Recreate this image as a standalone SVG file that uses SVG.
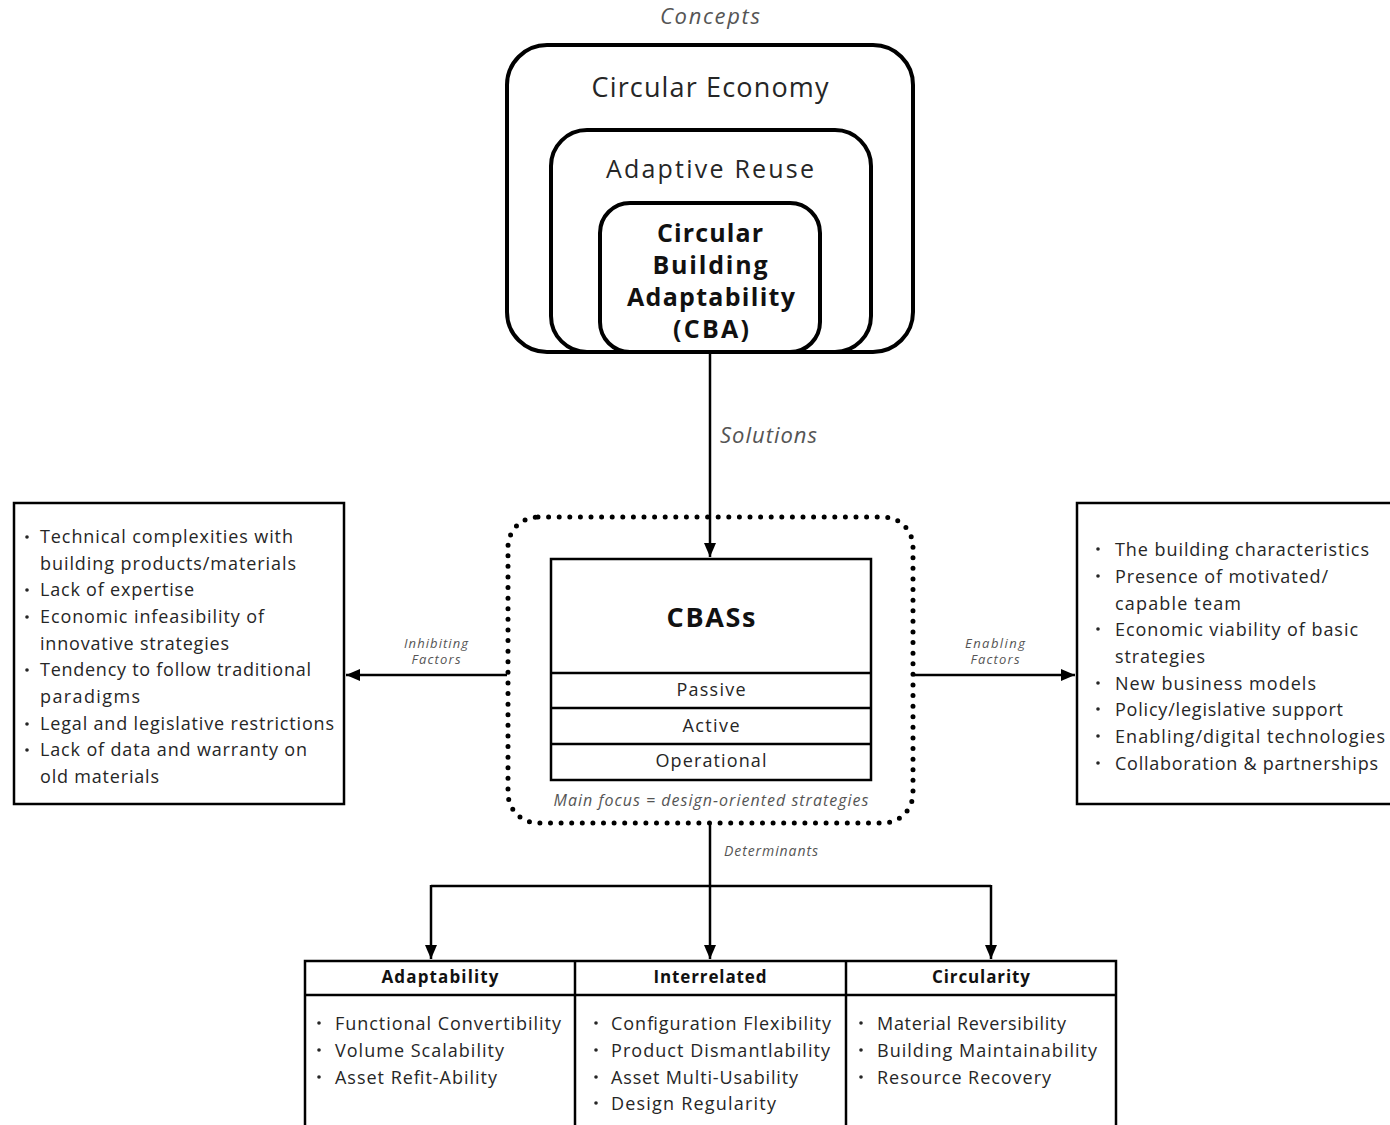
<svg xmlns="http://www.w3.org/2000/svg" width="1390" height="1125" viewBox="0 0 1390 1125">
  <style>
    text { font-family: "Open Sans", "Noto Sans", "Liberation Sans", sans-serif; fill: #262626; }
    .it { font-style: italic; fill: #555; }
    .b { font-weight: bold; fill: #111; }
    .mid { text-anchor: middle; }
    .thick { fill: #fff; stroke: #000; stroke-width: 4; }
    .box { fill: #fff; stroke: #000; stroke-width: 2.5; }
    .line { fill: none; stroke: #000; stroke-width: 2.5; }
    .li { font-size: 18px; }
    .dot { fill: #262626; }
  </style>
  <defs>
    <marker id="arrow" viewBox="0 0 14 12" refX="14" refY="6" markerWidth="14" markerHeight="12" markerUnits="userSpaceOnUse" orient="auto">
      <path d="M0,0 L14,6 L0,12 Z" fill="#000"/>
    </marker>
  </defs>

  <!-- Concepts: nested rounded boxes -->
  <g id="concepts">
    <text class="it mid" x="710" y="24" font-size="22" textLength="100">Concepts</text>
  </g>
  <g id="circular-economy">
    <rect class="thick" x="507" y="45" width="406" height="307" rx="40"/>
    <text class="mid" x="710" y="97" font-size="27" textLength="237">Circular Economy</text>
  </g>
  <g id="adaptive-reuse">
    <rect class="thick" x="551" y="130" width="320" height="222" rx="36"/>
    <text class="mid" x="710" y="178" font-size="25" textLength="208">Adaptive Reuse</text>
  </g>
  <g id="cba">
    <rect class="thick" x="600" y="203" width="220" height="149" rx="30"/>
    <text class="b mid" x="710" y="242" font-size="25" textLength="106">Circular</text>
    <text class="b mid" x="710" y="274" font-size="25" textLength="115">Building</text>
    <text class="b mid" x="711" y="306" font-size="25" textLength="168">Adaptability</text>
    <text class="b mid" x="711" y="338" font-size="25" textLength="76">(CBA)</text>
  </g>

  <!-- Strategies core -->
  <g id="cbass">
    <rect x="508" y="517" width="405" height="306" rx="30" fill="none" stroke="#000" stroke-width="5" stroke-linecap="round" stroke-dasharray="0 10.6"/>
    <rect class="box" x="551" y="559" width="320" height="221"/>
    <line class="line" x1="551" y1="673" x2="871" y2="673"/>
    <line class="line" x1="551" y1="708" x2="871" y2="708"/>
    <line class="line" x1="551" y1="744" x2="871" y2="744"/>
    <text class="b mid" x="711" y="627" font-size="27" textLength="89">CBASs</text>
    <text class="mid" x="711" y="696" font-size="18" textLength="69">Passive</text>
    <text class="mid" x="711" y="732" font-size="18" textLength="57">Active</text>
    <text class="mid" x="711" y="767" font-size="18" textLength="111">Operational</text>
    <text class="it mid" x="711" y="806" font-size="16" textLength="315">Main focus = design-oriented strategies</text>
  </g>

  <!-- Inhibiting factors -->
  <g id="inhibiting">
    <rect class="box" x="14" y="503" width="330" height="301"/>
    <g class="li">
      <text x="40" y="543" textLength="253">Technical complexities with</text>
      <text x="40" y="570" textLength="256">building products/materials</text>
      <text x="40" y="596" textLength="154">Lack of expertise</text>
      <text x="40" y="623" textLength="224">Economic infeasibility of</text>
      <text x="40" y="650" textLength="189">innovative strategies</text>
      <text x="40" y="676" textLength="271">Tendency to follow traditional</text>
      <text x="40" y="703" textLength="100">paradigms</text>
      <text x="40" y="730" textLength="294">Legal and legislative restrictions</text>
      <text x="40" y="756" textLength="267">Lack of data and warranty on</text>
      <text x="40" y="783" textLength="119">old materials</text>
    </g>
    <circle class="dot" cx="27" cy="537" r="1.8"/>
    <circle class="dot" cx="27" cy="590" r="1.8"/>
    <circle class="dot" cx="27" cy="617" r="1.8"/>
    <circle class="dot" cx="27" cy="670" r="1.8"/>
    <circle class="dot" cx="27" cy="724" r="1.8"/>
    <circle class="dot" cx="27" cy="750" r="1.8"/>
  </g>

  <!-- Enabling factors -->
  <g id="enabling">
    <rect class="box" x="1077" y="503" width="320" height="301"/>
    <g class="li">
      <text x="1115" y="556" textLength="254">The building characteristics</text>
      <text x="1115" y="583" textLength="213">Presence of motivated/</text>
      <text x="1115" y="610" textLength="126">capable team</text>
      <text x="1115" y="636" textLength="243">Economic viability of basic</text>
      <text x="1115" y="663" textLength="90">strategies</text>
      <text x="1115" y="690" textLength="201">New business models</text>
      <text x="1115" y="716" textLength="228">Policy/legislative support</text>
      <text x="1115" y="743" textLength="270">Enabling/digital technologies</text>
      <text x="1115" y="770" textLength="263">Collaboration &amp; partnerships</text>
    </g>
    <circle class="dot" cx="1098" cy="549" r="1.8"/>
    <circle class="dot" cx="1098" cy="576" r="1.8"/>
    <circle class="dot" cx="1098" cy="629" r="1.8"/>
    <circle class="dot" cx="1098" cy="683" r="1.8"/>
    <circle class="dot" cx="1098" cy="709" r="1.8"/>
    <circle class="dot" cx="1098" cy="736" r="1.8"/>
    <circle class="dot" cx="1098" cy="763" r="1.8"/>
  </g>

  <!-- Determinants table -->
  <g id="determinants">
    <rect class="box" x="305" y="961" width="811" height="180"/>
    <line class="line" x1="305" y1="995" x2="1116" y2="995"/>
    <line class="line" x1="575" y1="961" x2="575" y2="1125"/>
    <line class="line" x1="846" y1="961" x2="846" y2="1125"/>
    <text class="b mid" x="440" y="983" font-size="17" textLength="117">Adaptability</text>
    <text class="b mid" x="710" y="983" font-size="17" textLength="113">Interrelated</text>
    <text class="b mid" x="981" y="983" font-size="17" textLength="98">Circularity</text>
    <g class="li">
      <text x="335" y="1030" textLength="226">Functional Convertibility</text>
      <text x="335" y="1057" textLength="169">Volume Scalability</text>
      <text x="335" y="1084" textLength="162">Asset Refit-Ability</text>
      <text x="611" y="1030" textLength="220">Configuration Flexibility</text>
      <text x="611" y="1057" textLength="219">Product Dismantlability</text>
      <text x="611" y="1084" textLength="187">Asset Multi-Usability</text>
      <text x="611" y="1110" textLength="165">Design Regularity</text>
      <text x="877" y="1030" textLength="189">Material Reversibility</text>
      <text x="877" y="1057" textLength="220">Building Maintainability</text>
      <text x="877" y="1084" textLength="174">Resource Recovery</text>
    </g>
    <circle class="dot" cx="319" cy="1023" r="1.8"/>
    <circle class="dot" cx="319" cy="1050" r="1.8"/>
    <circle class="dot" cx="319" cy="1077" r="1.8"/>
    <circle class="dot" cx="596" cy="1023" r="1.8"/>
    <circle class="dot" cx="596" cy="1050" r="1.8"/>
    <circle class="dot" cx="596" cy="1077" r="1.8"/>
    <circle class="dot" cx="596" cy="1103" r="1.8"/>
    <circle class="dot" cx="861" cy="1023" r="1.8"/>
    <circle class="dot" cx="861" cy="1050" r="1.8"/>
    <circle class="dot" cx="861" cy="1077" r="1.8"/>
  </g>

  <!-- Connectors -->
  <g id="connectors">
    <line class="line" x1="710" y1="353" x2="710" y2="557" marker-end="url(#arrow)"/>
    <text class="it" x="720" y="443" font-size="22" textLength="97">Solutions</text>
    <line class="line" x1="507" y1="675" x2="346" y2="675" marker-end="url(#arrow)"/>
    <text class="it mid" x="436" y="648" font-size="13" textLength="64">Inhibiting</text>
    <text class="it mid" x="436" y="664" font-size="13" textLength="49">Factors</text>
    <line class="line" x1="914" y1="675" x2="1075" y2="675" marker-end="url(#arrow)"/>
    <text class="it mid" x="995" y="648" font-size="13" textLength="60">Enabling</text>
    <text class="it mid" x="995" y="664" font-size="13" textLength="49">Factors</text>
    <line class="line" x1="710" y1="824" x2="710" y2="959" marker-end="url(#arrow)"/>
    <text class="it" x="724" y="856" font-size="14" textLength="94">Determinants</text>
    <line class="line" x1="431" y1="886" x2="991" y2="886"/>
    <line class="line" x1="431" y1="885" x2="431" y2="959" marker-end="url(#arrow)"/>
    <line class="line" x1="991" y1="885" x2="991" y2="959" marker-end="url(#arrow)"/>
  </g>
</svg>
